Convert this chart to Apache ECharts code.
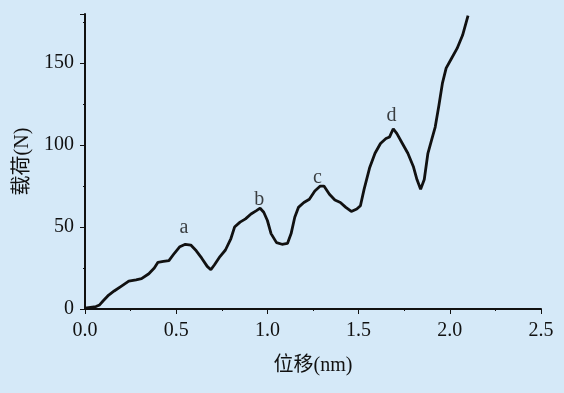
<!DOCTYPE html>
<html>
<head>
<meta charset="utf-8">
<script src="https://cdn.jsdelivr.net/npm/echarts@6/dist/echarts.min.js"></script>
<style>
html,body{margin:0;padding:0;background:#d5e9f8;}
#c{width:564px;height:393px;}
</style>
</head>
<body>
<div id="c"></div>
<script>
// displacement (nm) and load (N)
const displacement = [0,0.03,0.06,0.08,0.1,0.13,0.16,0.2,0.24,0.28,0.31,0.35,0.38,0.4,0.43,0.46,0.49,0.52,0.55,0.58,0.61,0.64,0.67,0.69,0.71,0.74,0.77,0.8,0.82,0.85,0.88,0.91,0.94,0.96,0.98,1.0,1.02,1.05,1.08,1.11,1.13,1.15,1.17,1.2,1.23,1.26,1.29,1.31,1.34,1.37,1.4,1.43,1.46,1.49,1.51,1.53,1.56,1.59,1.62,1.65,1.67,1.69,1.71,1.74,1.77,1.8,1.82,1.84,1.86,1.88,1.9,1.92,1.94,1.96,1.98,2.01,2.04,2.07,2.1];
const load = [0.5,1,1.5,2.5,5,8.5,11,14,17,17.8,18.5,21.5,25,28.5,29,29.5,34,38,39.5,39,35.5,31,26,24,27,32,36,43,50,53,55,58,60,61.5,59,54,46,40.5,39.5,40,46,56,62,65,67,72,75,75,70,66.5,65,62,59.5,61,63,73,86,95,101,104,105,110,107,101,95,87,79,73,79,95,103,111,124,138,147,153,159,167,179];
const peakNames = ['a','b','c','d'];
const peakX = [0.543,0.956,1.275,1.68];
const peakY = [49.4,66.5,80,117.7];
const xTicks = [0,0.5,1.0,1.5,2.0,2.5];
const yTicks = [0,50,100,150];

const serif = 'Liberation Serif, Noto Sans CJK SC, serif';
const chart = echarts.init(document.getElementById('c'));
chart.setOption({
  backgroundColor:'#d5e9f8',
  animation:false,
  grid:{left:85,right:23,top:14,bottom:84},
  xAxis:{
    type:'value',min:0,max:2.5,interval:0.5,
    name:'位移(nm)',nameLocation:'middle',nameGap:47,
    nameTextStyle:{fontFamily:serif,fontSize:20,color:'#111'},
    axisLine:{lineStyle:{color:'#111',width:2}},
    axisTick:{show:true,length:5,lineStyle:{color:'#111',width:1}},
    minorTick:{show:true,splitNumber:2,length:2,lineStyle:{color:'#111'}},
    splitLine:{show:false},
    axisLabel:{fontFamily:serif,fontSize:20,color:'#111',margin:12,
      formatter:v=>xTicks.includes(+v.toFixed(2))?v.toFixed(1):''}
  },
  yAxis:{
    type:'value',min:0,max:180,interval:50,
    name:'载荷(N)',nameLocation:'middle',nameGap:52,nameRotate:90,
    nameTextStyle:{fontFamily:serif,fontSize:20,color:'#111'},
    axisLine:{show:true,lineStyle:{color:'#111',width:2}},
    axisTick:{show:true,length:5,lineStyle:{color:'#111',width:1}},
    minorTick:{show:true,splitNumber:2,length:2,lineStyle:{color:'#111'}},
    splitLine:{show:false},
    axisLabel:{fontFamily:serif,fontSize:20,color:'#111',margin:11,
      showMaxLabel:false,
      formatter:v=>yTicks.includes(v)?String(v):''}
  },
  series:[
    {type:'line',data:displacement.map((x,i)=>[x,load[i]]),showSymbol:false,
     lineStyle:{color:'#111',width:2.8},clip:true},
    {type:'scatter',data:peakX.map((x,i)=>[x,peakY[i],peakNames[i]]),symbolSize:0,
     label:{show:true,position:'inside',formatter:p=>p.data[2],
       fontFamily:serif,fontSize:20,color:'#111'}}
  ]
});
</script>
</body>
</html>
